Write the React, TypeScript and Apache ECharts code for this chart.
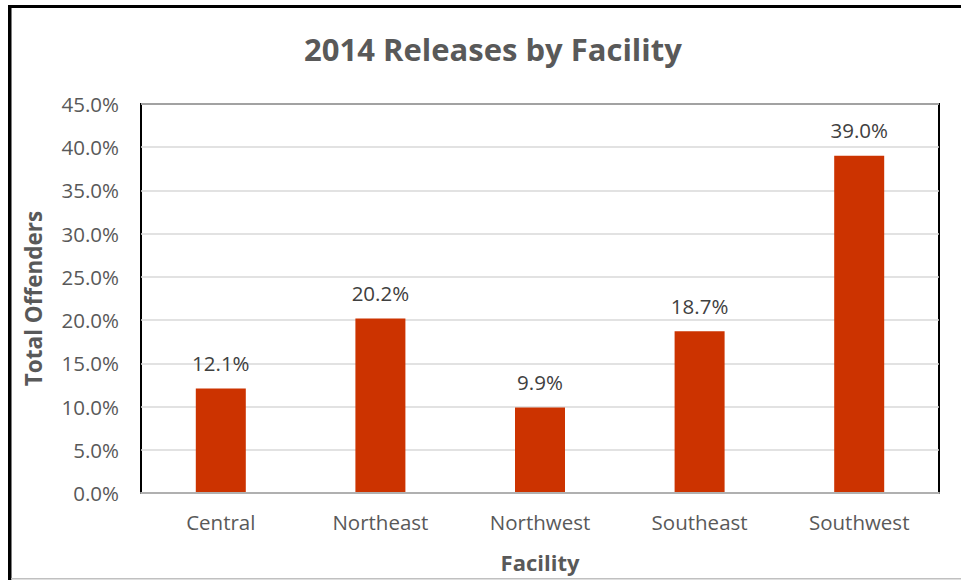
import React, { useEffect, useRef } from "react";
import * as echarts from "echarts";

const categories = ["Central", "Northeast", "Northwest", "Southeast", "Southwest"];
const values = [12.1, 20.2, 9.9, 18.7, 39.0];
const yMin = 0;
const yMax = 45;
const yStep = 5;

export default function App() {
  const ref = useRef<HTMLDivElement>(null);
  useEffect(() => {
    if (!ref.current) return;
    const chart = echarts.init(ref.current, null, { renderer: "svg" });
    const font = "'Open Sans', 'Liberation Sans', sans-serif";
    chart.setOption({
      animation: false,
      backgroundColor: "#ffffff",
      textStyle: { fontFamily: font },
      title: {
        text: "2014 Releases by Facility",
        left: 299,
        top: 28,
        textStyle: { fontSize: 31, fontWeight: "bold", color: "#595959", fontFamily: font },
      },
      grid: {
        left: 141,
        top: 104,
        right: 22,
        bottom: 87,
        outerBoundsMode: "none",
        show: true,
        borderColor: "#000000",
        borderWidth: 2,
        backgroundColor: "transparent",
      },
      xAxis: {
        type: "category",
        data: categories,
        name: "Facility",
        nameLocation: "middle",
        nameGap: 58,
        nameTextStyle: { fontSize: 22, fontWeight: "bold", color: "#595959", fontFamily: font },
        axisLine: { show: true, lineStyle: { color: "#b0b0b0", width: 2 } },
        axisTick: { show: false },
        axisLabel: { fontSize: 20.5, color: "#595959", margin: 18, fontFamily: font },
        z: 5,
      },
      yAxis: {
        type: "value",
        min: yMin,
        max: yMax,
        interval: yStep,
        name: "Total Offenders",
        nameLocation: "middle",
        nameGap: 96,
        nameRotate: 90,
        nameTextStyle: { fontSize: 22.5, fontWeight: "bold", color: "#595959", fontFamily: font },
        axisLine: { show: false },
        axisTick: { show: false },
        splitLine: { lineStyle: { color: "#d9d9d9", width: 1.5 } },
        axisLabel: {
          fontSize: 20.5,
          color: "#595959",
          margin: 22,
          fontFamily: font,
          formatter: (v: number) => v.toFixed(1) + "%",
        },
      },
      series: [
        {
          type: "bar",
          data: values,
          barWidth: 50,
          itemStyle: { color: "#cc3300" },
          label: {
            show: true,
            position: "top",
            distance: 15,
            fontSize: 20.5,
            color: "#404040",
            fontFamily: font,
            formatter: (p: any) => Number(p.value).toFixed(1) + "%",
          },
        },
      ],
      graphic: [
        { type: "rect", shape: { x: 8, y: 5, width: 3.5, height: 580 }, style: { fill: "#000000" } },
        { type: "rect", shape: { x: 8, y: 5, width: 961, height: 3 }, style: { fill: "#000000" } },
        { type: "rect", shape: { x: 11, y: 578, width: 961, height: 1.5 }, style: { fill: "#c0c0c0" } },
      ],
    });
    return () => chart.dispose();
  }, []);
  return (
    <div
      ref={ref}
      style={{ position: "absolute", left: 0, top: 0, width: 961, height: 580 }}
    />
  );
}
